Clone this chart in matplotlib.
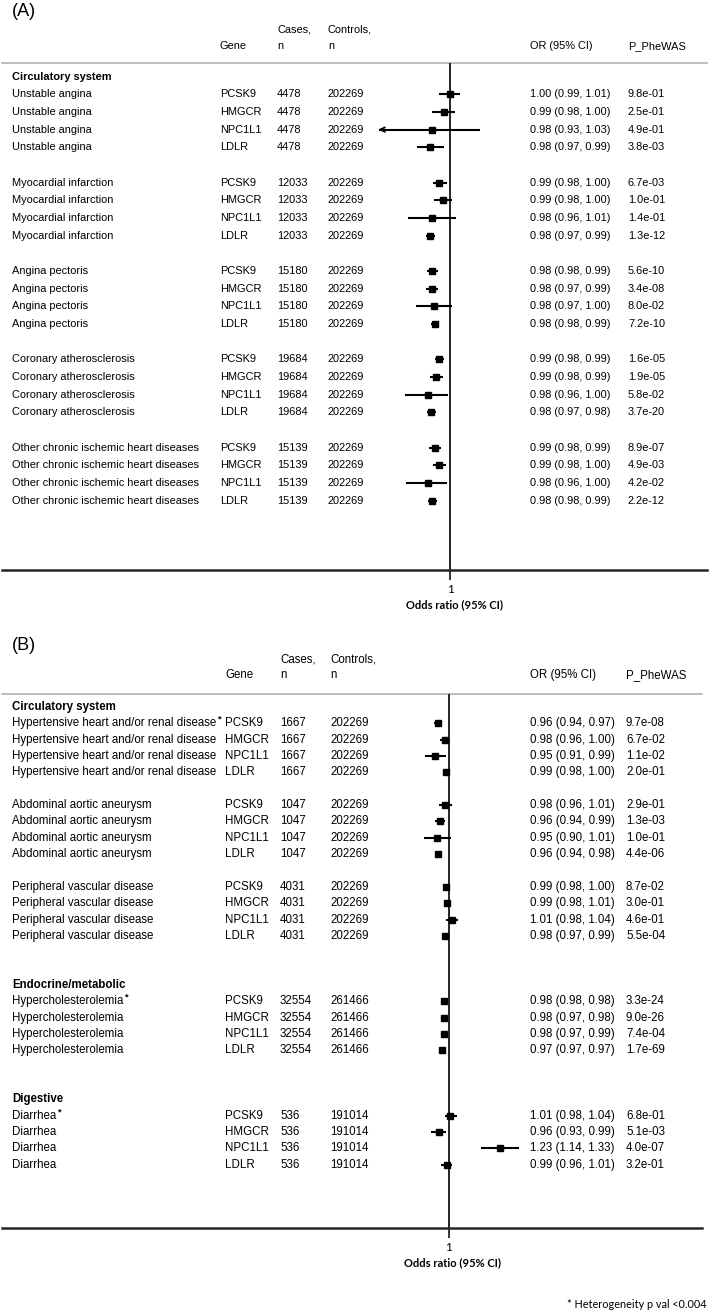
import numpy as np
import matplotlib.pyplot as plt
from matplotlib import transforms
from matplotlib.ticker import NullLocator

plt.rcParams['font.family'] = ['Liberation Sans', 'DejaVu Sans']

W, H = 709, 1312
genes = ['PCSK9', 'HMGCR', 'NPC1L1', 'LDLR']

# ---- panel A data ----
a_outcomes = ['Unstable angina', 'Myocardial infarction', 'Angina pectoris',
              'Coronary atherosclerosis', 'Other chronic ischemic heart diseases']
a_cases = [4478, 12033, 15180, 19684, 15139]
a_controls = [202269, 202269, 202269, 202269, 202269]
a_or_ci = ['1.00 (0.99, 1.01)', '0.99 (0.98, 1.00)', '0.98 (0.93, 1.03)', '0.98 (0.97, 0.99)',
           '0.99 (0.98, 1.00)', '0.99 (0.98, 1.00)', '0.98 (0.96, 1.01)', '0.98 (0.97, 0.99)',
           '0.98 (0.98, 0.99)', '0.98 (0.97, 0.99)', '0.98 (0.97, 1.00)', '0.98 (0.98, 0.99)',
           '0.99 (0.98, 0.99)', '0.99 (0.98, 0.99)', '0.98 (0.96, 1.00)', '0.98 (0.97, 0.98)',
           '0.99 (0.98, 0.99)', '0.99 (0.98, 1.00)', '0.98 (0.96, 1.00)', '0.98 (0.98, 0.99)']
a_p = ['9.8e-01', '2.5e-01', '4.9e-01', '3.8e-03',
       '6.7e-03', '1.0e-01', '1.4e-01', '1.3e-12',
       '5.6e-10', '3.4e-08', '8.0e-02', '7.2e-10',
       '1.6e-05', '1.9e-05', '5.8e-02', '3.7e-20',
       '8.9e-07', '4.9e-03', '4.2e-02', '2.2e-12']
# unrounded estimates as drawn
a_est = [1.000, 0.994, 0.983, 0.981, 0.990, 0.993, 0.983, 0.981, 0.983, 0.983,
         0.985, 0.986, 0.990, 0.987, 0.979, 0.982, 0.986, 0.990, 0.979, 0.983]
a_lo = [0.990, 0.983, 0.930, 0.969, 0.984, 0.985, 0.961, 0.977, 0.978, 0.977,
        0.968, 0.982, 0.986, 0.981, 0.958, 0.978, 0.980, 0.984, 0.959, 0.979]
a_hi = [1.010, 1.005, 1.029, 0.994, 0.997, 1.002, 1.006, 0.986, 0.989, 0.989,
        1.002, 0.990, 0.994, 0.993, 0.998, 0.987, 0.991, 0.996, 0.997, 0.988]

# ---- panel B data ----
b_outcomes = ['Hypertensive heart and/or renal disease', 'Abdominal aortic aneurysm',
              'Peripheral vascular disease', 'Hypercholesterolemia', 'Diarrhea']
b_starred = [True, False, False, True, True]
b_cases = [1667, 1047, 4031, 32554, 536]
b_controls = [202269, 202269, 202269, 261466, 191014]
b_or_ci = ['0.96 (0.94, 0.97)', '0.98 (0.96, 1.00)', '0.95 (0.91, 0.99)', '0.99 (0.98, 1.00)',
           '0.98 (0.96, 1.01)', '0.96 (0.94, 0.99)', '0.95 (0.90, 1.01)', '0.96 (0.94, 0.98)',
           '0.99 (0.98, 1.00)', '0.99 (0.98, 1.01)', '1.01 (0.98, 1.04)', '0.98 (0.97, 0.99)',
           '0.98 (0.98, 0.98)', '0.98 (0.97, 0.98)', '0.98 (0.97, 0.99)', '0.97 (0.97, 0.97)',
           '1.01 (0.98, 1.04)', '0.96 (0.93, 0.99)', '1.23 (1.14, 1.33)', '0.99 (0.96, 1.01)']
b_p = ['9.7e-08', '6.7e-02', '1.1e-02', '2.0e-01',
       '2.9e-01', '1.3e-03', '1.0e-01', '4.4e-06',
       '8.7e-02', '3.0e-01', '4.6e-01', '5.5e-04',
       '3.3e-24', '9.0e-26', '7.4e-04', '1.7e-69',
       '6.8e-01', '5.1e-03', '4.0e-07', '3.2e-01']
b_est = [0.955, 0.982, 0.946, 0.989, 0.985, 0.965, 0.953, 0.957, 0.989, 0.991,
         1.013, 0.982, 0.980, 0.979, 0.980, 0.971, 1.005, 0.958, 1.230, 0.991]
b_lo = [0.940, 0.965, 0.907, 0.980, 0.959, 0.945, 0.902, 0.945, 0.980, 0.980,
        0.989, 0.975, 0.977, 0.975, 0.970, 0.968, 0.982, 0.929, 1.140, 0.968]
b_hi = [0.970, 0.999, 0.989, 0.999, 1.013, 0.985, 1.009, 0.970, 0.998, 1.003,
        1.036, 0.990, 0.983, 0.983, 0.990, 0.974, 1.032, 0.986, 1.330, 1.011]

fig = plt.figure(figsize=(W / 100, H / 100), dpi=100)
bg = fig.add_axes([0, 0, 1, 1])
bg.set_xlim(0, W)
bg.set_ylim(H, 0)
bg.axis('off')


def draw_panel(label, label_y, head_y1, head_y2, line_y, axis_y, x_right, row0, pitch,
               one_px, px_per_log, cols, fs, sections, groups, outcomes, starred,
               cases, controls, or_ci, pvals, est, lo, hi, clip_lo=None):
    x0, x1 = 2, x_right
    ax = fig.add_axes([x0 / W, 1 - axis_y / H, (x1 - x0) / W, (axis_y - line_y) / H])
    ax.set_xscale('log')
    ax.set_xlim(np.exp((x0 - one_px) / px_per_log), np.exp((x1 - one_px) / px_per_log))
    ax.set_ylim((axis_y - row0) / pitch, (line_y - row0) / pitch)
    ax.patch.set_alpha(0)
    for s in ['top', 'left', 'right']:
        ax.spines[s].set_visible(False)
    ax.spines['bottom'].set_color('#262626')
    ax.spines['bottom'].set_linewidth(1.8)
    ax.set_yticks([])
    ax.set_xticks([1])
    ax.set_xticklabels(['1'], family='Lato', fontsize=8.5)
    ax.xaxis.set_minor_locator(NullLocator())
    ax.tick_params(axis='x', length=7, width=1.1, pad=3)
    ax.set_xlabel('Odds ratio (95% CI)', family='Lato', fontweight='bold', fontsize=8,
                  labelpad=3)
    ax.xaxis.label.set_x((one_px + 4 - x0) / (x1 - x0))
    ax.axvline(1, color='black', lw=1.2)

    tr = transforms.blended_transform_factory(bg.transData, ax.transData)
    cx_name, cx_gene, cx_case, cx_ctrl, cx_or, cx_p = cols

    # header
    bg.text(12, label_y, label, fontsize=13, va='center')
    bg.text(cx_case, head_y1, 'Cases,', fontsize=fs, va='center')
    bg.text(cx_ctrl, head_y1, 'Controls,', fontsize=fs, va='center')
    for x, s in [(cx_gene, 'Gene'), (cx_case, 'n'), (cx_ctrl, 'n'),
                 (cx_or, 'OR (95% CI)'), (cx_p, 'P_PheWAS')]:
        bg.text(x, head_y2, s, fontsize=fs, va='center')
    bg.plot([2, x_right], [line_y, line_y], color='#b0b0b0', lw=1.2)

    for r, s in sections:
        ax.text(cx_name, r, s, transform=tr, fontsize=fs, fontweight='bold', va='center')

    k = 0
    for g, start in enumerate(groups):
        for j, gene in enumerate(genes):
            r = start + j
            t = ax.text(cx_name, r, outcomes[g], transform=tr, fontsize=fs, va='center')
            if starred[g] and j == 0:
                bg.annotate('*', xy=(1, 1), xycoords=t, xytext=(0.4, 1.8),
                            textcoords='offset points', fontsize=fs - 1.5,
                            fontweight='bold', ha='left', va='top')
            ax.text(cx_gene, r, gene, transform=tr, fontsize=fs, va='center')
            ax.text(cx_case, r, str(cases[g]), transform=tr, fontsize=fs, va='center')
            ax.text(cx_ctrl, r, str(controls[g]), transform=tr, fontsize=fs, va='center')
            ax.text(cx_or, r, or_ci[k], transform=tr, fontsize=fs, va='center')
            ax.text(cx_p, r, pvals[k], transform=tr, fontsize=fs, va='center')

            if clip_lo is not None and lo[k] < clip_lo:
                ax.plot([clip_lo, hi[k]], [r, r], color='black', lw=1.5, solid_capstyle='butt')
                ax.annotate('', xy=(clip_lo * 0.999, r), xytext=(clip_lo * 1.004, r),
                            arrowprops=dict(arrowstyle='->', lw=1.3, color='black',
                                            mutation_scale=8, shrinkA=0, shrinkB=0))
            else:
                ax.plot([lo[k], hi[k]], [r, r], color='black', lw=1.5, solid_capstyle='butt')
            ax.plot(est[k], r, 's', ms=4.6, color='black')
            k += 1
    return ax


draw_panel('(A)', 12, 30, 46, 63, 570, 707, 76.6, 17.67, 450, 1050,
           (12, 220, 277, 328, 530, 628), 7.9,
           [(0, 'Circulatory system')], [1, 6, 11, 16, 21],
           a_outcomes, [False] * 5, a_cases, a_controls, a_or_ci, a_p,
           a_est, a_lo, a_hi, clip_lo=0.935)

draw_panel('(B)', 645, 659, 675, 694, 1228, 702, 707, 16.35, 449, 244,
           (12, 225, 280, 330, 530, 626), 8.3,
           [(0, 'Circulatory system'), (17, 'Endocrine/metabolic'), (24, 'Digestive')],
           [1, 6, 11, 18, 25],
           b_outcomes, b_starred, b_cases, b_controls, b_or_ci, b_p,
           b_est, b_lo, b_hi)

bg.text(707, 1305, '* Heterogeneity p val <0.004', family='Lato', fontsize=7.8,
        ha='right', va='center')

fig.savefig('out.png', dpi=100)
